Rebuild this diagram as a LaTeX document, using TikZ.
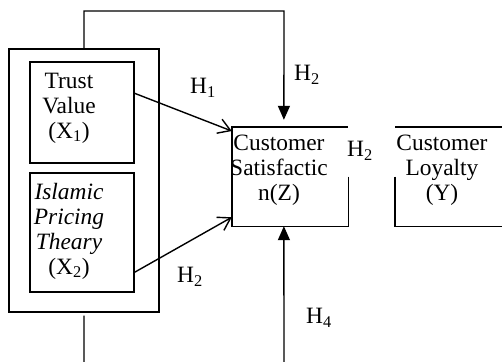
\documentclass[tikz,border=0pt]{standalone}
\usepackage{fontspec}
\setmainfont{Liberation Serif}
\usetikzlibrary{arrows.meta,positioning}

\begin{document}
\begin{tikzpicture}[
    x=1bp, y=-1bp,
    frame/.style={rectangle, draw, line width=1.4bp, inner sep=0pt},
    hollow/.style={rectangle, inner sep=0pt},
    lbl/.style={align=center, inner sep=0pt, font=\fontsize{23.5}{25}\selectfont},
    hyp/.style={inner sep=0pt, font=\fontsize{23.5}{25}\selectfont},
    edge/.style={line width=1.4bp},
    open/.style={-{Straight Barb[length=12bp,width=15bp]}, line width=1.4bp},
    feed/.style={-{Triangle[length=14bp,width=12bp]}, line width=1.4bp}
]
\clip (0,0) rectangle (502,361);
% predictor block
\node[frame, minimum width=150bp, minimum height=263bp] (outer) at (84,180.5) {};
\node[frame, minimum width=104bp, minimum height=101bp] (trust) at (82,112.5) {};
\node[frame, minimum width=104bp, minimum height=119bp] (islamic) at (82,232.5) {};
\node[lbl] (trustT) at (69,108) {Trust\\Value\\(X\textsubscript{1})};
\node[lbl] (islamicT) at (69,231) {\textit{Islamic}\\\textit{Pricing}\\\textit{Theary}\\(X\textsubscript{2})};
% satisfaction and loyalty
\node[hollow, minimum width=116bp, minimum height=99bp] (sat) at (290,176.5) {};
\node[hollow, minimum width=116bp, minimum height=99bp] (loyal) at (453,176.5) {};
\draw[edge] (sat.east) -- (sat.south east) -- (sat.south west) -- (sat.north west) -- (sat.north east);
\draw[edge] (loyal.north east) -- (loyal.north west);
\draw[edge] (loyal.west) -- (loyal.south west) -- (loyal.south east);
\node[lbl] (satT) at (279,170) {Customer\\Satisfactic\\n(Z)};
\node[lbl] (loyalT) at (442,170) {Customer\\Loyalty\\(Y)};
% hypotheses
\node[hyp] (h1) at (203,88) {H\textsubscript{1}};
\node[hyp] (h2top) at (307,75) {H\textsubscript{2}};
\node[hyp] (h2mid) at (360,151) {H\textsubscript{2}};
\node[hyp] (h2low) at (190,277) {H\textsubscript{2}};
\node[hyp] (h4) at (319,318) {H\textsubscript{4}};
\draw[open] (trust.20) -- (sat.142);
\draw[open] (islamic.323) -- (sat.215);
\coordinate (topR) at (284,11);
\coordinate (botR) at (284,380);
\draw[feed, shorten >=7bp] (outer.north) |- (topR) -- (sat.97);
\draw[feed] ([yshift=-3bp]outer.south) |- (botR) -- (sat.263);
\end{tikzpicture}
\end{document}
